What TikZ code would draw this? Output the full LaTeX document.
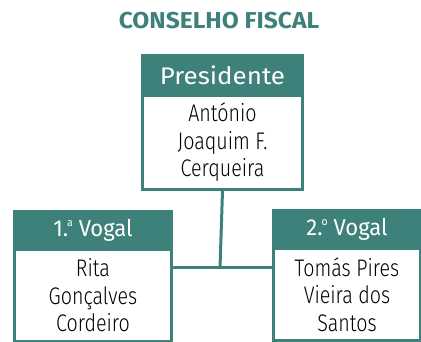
\documentclass[tikz,border=0pt]{standalone}
\usepackage{fontspec}
\setmainfont{Fira Sans}
\newfontfamily\bodyfont{Fira Sans}[FakeStretch=0.82,UprightFont=* Light]
\newfontfamily\headfont{Fira Sans}[FakeStretch=1.08]
\newfontfamily\vogalfont{Fira Sans}[FakeStretch=0.96]
\newfontfamily\titlefont{Fira Sans}[FakeStretch=1.07,UprightFont=* Bold]
\definecolor{teal1}{RGB}{62,128,122}
\newcommand\ordsup[1]{\kern-1pt\raisebox{0.85ex}{\fontsize{11}{11}\selectfont #1}}
\begin{document}
\begin{tikzpicture}[x=1pt,y=-1pt,
  headbox/.style={fill=teal1,draw=teal1,line width=3pt,text=white,inner sep=0pt,anchor=north west,font=\headfont\fontsize{24}{26}\selectfont},
  vogalhead/.style={headbox,font=\vogalfont\fontsize{23}{26}\selectfont},
  bodybox/.style={fill=white,draw=teal1,line width=3pt,inner sep=0pt,anchor=north west,align=center,font=\bodyfont\fontsize{24}{27.5}\selectfont},
  conn/.style={teal1,line width=3pt}]
\useasboundingbox (0,0) rectangle (421,342);
\node[text=teal1,font=\titlefont\fontsize{23}{26}\selectfont] (title) at (219,21) {CONSELHO FISCAL};
% Presidente
\node[headbox,minimum width=160pt,minimum height=40pt] (phead) at (141,54) {Presidente};
\node[bodybox,minimum width=160pt,minimum height=94pt] (pbody) at (141,94) {António\\Joaquim F.\\Cerqueira};
% 1a Vogal
\node[vogalhead,minimum width=157pt,minimum height=38pt] (lhead) at (13,210) {1.\ordsup{a} Vogal};
\node[bodybox,minimum width=157pt,minimum height=92pt] (lbody) at (13,248) {Rita\\Gonçalves\\Cordeiro};
% 2o Vogal
\node[vogalhead,minimum width=147pt,minimum height=38pt] (rhead) at (272,209) {2.\ordsup{o} Vogal};
\node[bodybox,minimum width=147pt,minimum height=92pt] (rbody) at (272,247) {Tomás Pires\\Vieira dos\\Santos};
% connectors
\coordinate (junc) at (220,268);
\draw[conn] (pbody.south) -- (junc);
\draw[conn] (lbody.east |- junc) -- (rbody.west |- junc);
\end{tikzpicture}
\end{document}
